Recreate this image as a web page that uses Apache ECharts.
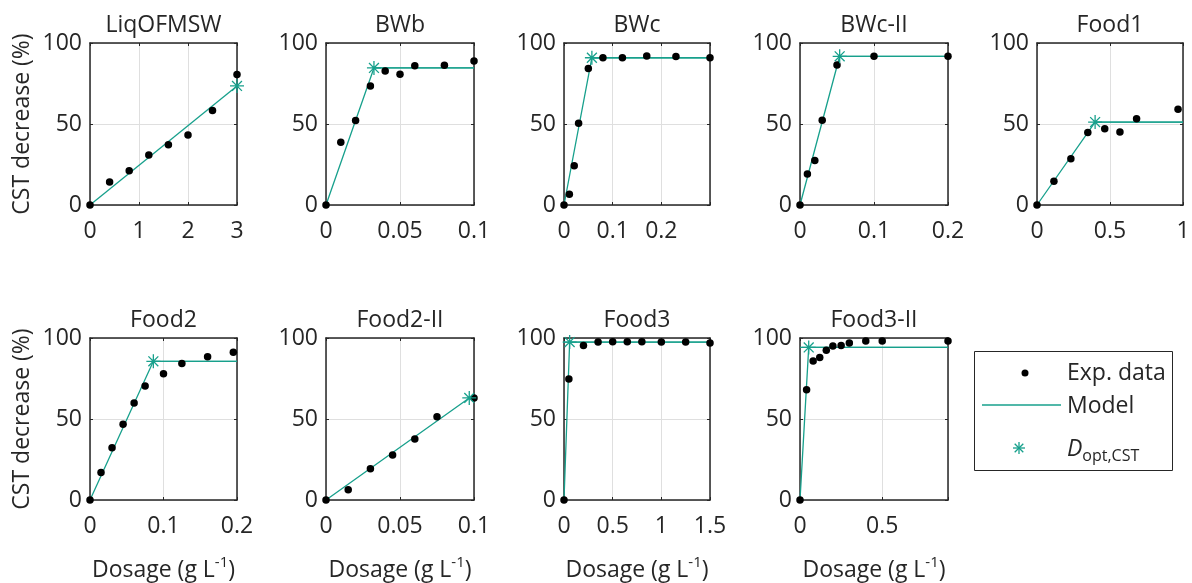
<!DOCTYPE html>
<html><head><meta charset="utf-8">
<script src="https://cdn.jsdelivr.net/npm/echarts@6/dist/echarts.min.js"></script>
<style>html,body{margin:0;padding:0;background:#fff}#c{width:1192px;height:583px}</style>
</head><body><div id="c"></div>
<script>
// ---- data ----
const titles = ['LiqOFMSW','BWb','BWc','BWc-II','Food1','Food2','Food2-II','Food3','Food3-II'];
const xMaxes = [3, 0.1, 0.3, 0.2, 1, 0.2, 0.1, 1.5, 0.9];
const xIntervals = [1, 0.05, 0.1, 0.1, 0.5, 0.1, 0.05, 0.5, 0.5];
const xTickLabels = [[0,1,2,3],[0,0.05,0.1],[0,0.1,0.2],[0,0.1,0.2],[0,0.5,1],[0,0.1,0.2],[0,0.05,0.1],[0,0.5,1,1.5],[0,0.5]];
const yTicks = [0, 50, 100];

const liqX = [0,0.4,0.8,1.2,1.6,2.0,2.5,3.0];
const liqY = [0,14.2,21.2,30.9,37.2,43.2,58.4,80.5];
const bwbX = [0,0.01,0.02,0.03,0.04,0.05,0.06,0.08,0.1];
const bwbY = [0,38.7,52.1,73.5,82.7,80.7,86.0,86.2,88.9];
const bwcX = [0,0.011,0.021,0.03,0.05,0.08,0.12,0.17,0.23,0.3];
const bwcY = [0,6.6,24.3,50.4,84.2,90.9,90.9,92.0,91.6,90.9];
const bwc2X = [0,0.01,0.02,0.03,0.05,0.1,0.2];
const bwc2Y = [0,19.1,27.4,52.3,86.4,91.8,91.8];
const food1X = [0,0.116,0.232,0.348,0.464,0.568,0.682,0.966];
const food1Y = [0,14.6,28.6,44.7,47.1,45.1,53.3,59.1];
const food2X = [0,0.015,0.03,0.045,0.06,0.075,0.1,0.125,0.16,0.195];
const food2Y = [0,16.9,32.3,46.7,59.9,70.4,78.0,84.2,88.5,91.2];
const food2bX = [0,0.015,0.03,0.045,0.06,0.075,0.1];
const food2bY = [0,6.4,19.3,27.8,37.7,51.4,63.0];
const food3X = [0,0.05,0.2,0.35,0.5,0.65,0.8,1.0,1.25,1.5];
const food3Y = [0,74.7,95.3,97.5,97.7,97.7,97.7,97.5,97.5,96.9];
const food3bX = [0,0.04,0.08,0.12,0.16,0.2,0.25,0.3,0.4,0.5,0.9];
const food3bY = [0,68.1,85.8,87.9,92.4,95.1,95.3,96.9,98.1,98.1,98.1];

const optX = [3.0,0.0324,0.0573,0.0536,0.398,0.0862,0.0968,0.058,0.053];
const optY = [73.5,84.6,90.9,91.8,51.2,85.6,63.0,97.5,94.2];
const plateauFrom = [3.0,0.0324,0.0573,0.0536,0.398,0.0862,0.0968,0,0];

const expXs = [liqX,bwbX,bwcX,bwc2X,food1X,food2X,food2bX,food3X,food3bX];
const expYs = [liqY,bwbY,bwcY,bwc2Y,food1Y,food2Y,food2bY,food3Y,food3bY];

// ---- layout / style ----
const FONT = '"Open Sans", "Noto Sans", sans-serif';
const FS = 23;
const TXT = '#262626';
const TEAL = '#17a08c';
const lefts = [90, 326, 564, 800, 1037, 90, 326, 564, 800];
const widths = [147, 148, 146, 148, 146, 147, 148, 146, 148];
const tops = [43, 43, 43, 43, 43, 338, 338, 338, 338];
const H = 162;
const STAR = 'path://M0,-1L0,1M-1,0L1,0M-0.707,-0.707L0.707,0.707M-0.707,0.707L0.707,-0.707';

const grid = [], xAxis = [], yAxis = [], series = [], graphic = [];
for (let i = 0; i < 9; i++) {
  grid.push({left: lefts[i], top: tops[i], width: widths[i], height: H, show: false, containLabel: false, outerBoundsMode: 'none'});
  const labels = xTickLabels[i];
  const fmt = v => labels.some(t => Math.abs(t - v) < 1e-9) ? String(+v.toFixed(6)) : '';
  const baseX = {type: 'value', gridIndex: i, min: 0, max: xMaxes[i], interval: xIntervals[i],
    axisLine: {show: true, onZero: false, lineStyle: {color: TXT, width: 1.5}},
    axisTick: {show: true, inside: true, length: 3, lineStyle: {color: TXT, width: 1}}};
  xAxis.push(Object.assign({}, baseX, {position: 'bottom',
    axisLabel: {show: true, formatter: fmt, color: TXT, fontFamily: FONT, fontSize: FS, margin: 15, showMinLabel: true, showMaxLabel: true, hideOverlap: false},
    splitLine: {show: true, lineStyle: {color: '#dfdfdf', width: 1}},
    name: i >= 5 ? 'Dosage (g L{sup|-1})' : '', nameLocation: 'middle', nameGap: 55,
    nameTextStyle: {color: TXT, fontFamily: FONT, fontSize: FS, lineHeight: 30, rich: {sup: {fontSize: 15, fontFamily: FONT, color: TXT, lineHeight: 30, verticalAlign: 'top', padding: [0, 0, 14, 0]}}}
  }));
  xAxis.push(Object.assign({}, baseX, {position: 'top', axisLabel: {show: false}, splitLine: {show: false}}));
  const baseY = {type: 'value', gridIndex: i, min: 0, max: 100, interval: 50,
    axisLine: {show: true, onZero: false, lineStyle: {color: TXT, width: 1.5}},
    axisTick: {show: true, inside: true, length: 3, lineStyle: {color: TXT, width: 1}}};
  yAxis.push(Object.assign({}, baseY, {position: 'left',
    axisLabel: {show: true, color: TXT, fontFamily: FONT, fontSize: FS, margin: 8},
    splitLine: {show: true, lineStyle: {color: '#dfdfdf', width: 1}},
    name: (i === 0 || i === 5) ? 'CST decrease (%)' : '', nameLocation: 'middle', nameGap: 56,
    nameTextStyle: {color: TXT, fontFamily: FONT, fontSize: FS}
  }));
  yAxis.push(Object.assign({}, baseY, {position: 'right', axisLabel: {show: false}, splitLine: {show: false}}));

  const xa = 2 * i, ya = 2 * i;
  series.push({type: 'line', xAxisIndex: xa, yAxisIndex: ya, clip: false, silent: true, showSymbol: false, symbol: 'none',
    lineStyle: {color: TEAL, width: 1.3}, z: 3,
    data: [[0, 0], [optX[i], optY[i]], [xMaxes[i], optY[i]]]});
  series.push({type: 'line', xAxisIndex: xa, yAxisIndex: ya, clip: false, silent: true, showSymbol: false, symbol: 'none',
    lineStyle: {color: TEAL, width: 1.3}, z: 3,
    data: [[plateauFrom[i], optY[i]], [xMaxes[i], optY[i]]]});
  series.push({type: 'scatter', xAxisIndex: xa, yAxisIndex: ya, clip: false, silent: true, symbol: 'circle', symbolSize: 7.5,
    itemStyle: {color: '#000', opacity: 1}, z: 4,
    data: expXs[i].map((x, k) => [x, expYs[i][k]])});
  series.push({type: 'scatter', xAxisIndex: xa, yAxisIndex: ya, clip: false, silent: true, symbol: STAR, symbolSize: 14,
    itemStyle: {color: 'rgba(0,0,0,0)', borderColor: TEAL, borderWidth: 1.3, opacity: 1}, z: 5,
    data: [[optX[i], optY[i]]]});

  graphic.push({type: 'text', x: lefts[i] + widths[i] / 2, y: tops[i] - 18, z: 10,
    style: {text: titles[i], fill: TXT, font: FS + 'px ' + FONT, textAlign: 'center', textVerticalAlign: 'middle'}});
}

// legend box (decoration)
const LX = 974, LY = 351, LW = 198, LH = 119;
graphic.push({type: 'rect', shape: {x: LX + 0.5, y: LY + 0.5, width: LW, height: LH}, style: {fill: '#fff', stroke: '#262626', lineWidth: 1}, z: 10});
graphic.push({type: 'circle', shape: {cx: 1025, cy: 373, r: 3.5}, style: {fill: '#000'}, z: 11});
graphic.push({type: 'line', shape: {x1: 982, y1: 405, x2: 1061, y2: 405}, style: {stroke: TEAL, lineWidth: 1.3}, z: 11});
const sc = [1019, 448], sr = 6, sd = 4.3;
[[0, -sr, 0, sr], [-sr, 0, sr, 0], [-sd, -sd, sd, sd], [-sd, sd, sd, -sd]].forEach(s => {
  graphic.push({type: 'line', z: 11, shape: {x1: sc[0] + s[0], y1: sc[1] + s[1], x2: sc[0] + s[2], y2: sc[1] + s[3]}, style: {stroke: TEAL, lineWidth: 1.3}});
});
graphic.push({type: 'text', x: 1067, y: 373, z: 11, style: {text: 'Exp. data', fill: TXT, font: FS + 'px ' + FONT, textVerticalAlign: 'middle'}});
graphic.push({type: 'text', x: 1067, y: 406, z: 11, style: {text: 'Model', fill: TXT, font: FS + 'px ' + FONT, textVerticalAlign: 'middle'}});
graphic.push({type: 'text', x: 1067, y: 449, z: 11, style: {text: '{it|D}{sub|opt,CST}', fill: TXT, textVerticalAlign: 'middle',
  rich: {it: {fontStyle: 'italic', fontSize: FS, fontFamily: FONT, fill: TXT, lineHeight: 30}, sub: {fontSize: 16, fontFamily: FONT, fill: TXT, lineHeight: 30, verticalAlign: 'bottom', padding: [14, 0, 0, 0]}}}});

const chart = echarts.init(document.getElementById('c'), null, {renderer: 'canvas'});
chart.setOption({animation: false, backgroundColor: '#fff', grid, xAxis, yAxis, series, graphic});
</script></body></html>
